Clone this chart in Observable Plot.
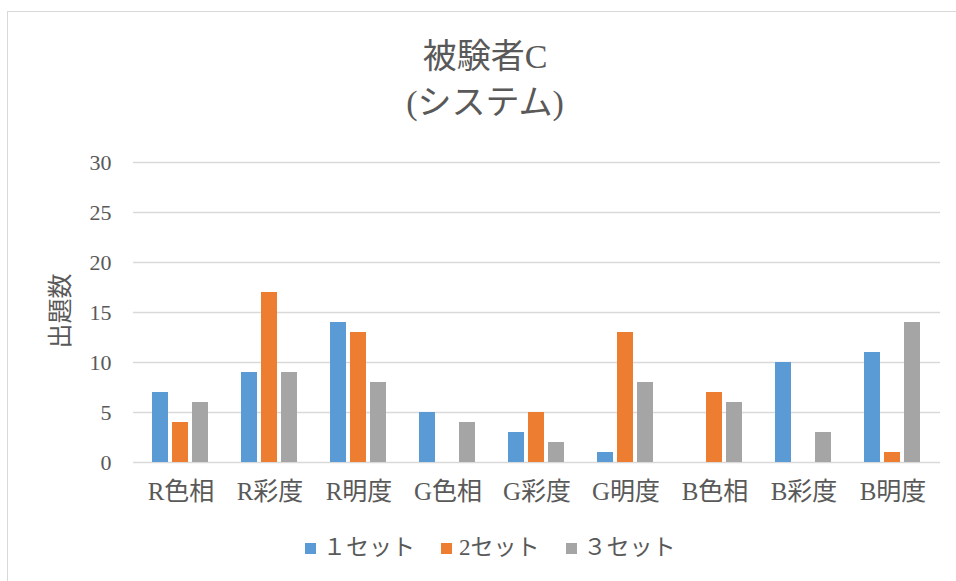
<!DOCTYPE html>
<html><head><meta charset="utf-8">
<script src="https://cdn.jsdelivr.net/npm/d3@7"></script>
<script src="https://cdn.jsdelivr.net/npm/@observablehq/plot@0.6"></script>
<style>
body{margin:0;background:#fff;}
#wrap{position:relative;width:956px;height:581px;overflow:hidden;font-family:"Liberation Serif","Noto Sans CJK JP",serif;color:#595959;}
#frame{position:absolute;left:7px;top:11px;width:960px;height:600px;border:1px solid #d9d9d9;box-sizing:border-box;}
#title{position:absolute;left:285px;top:34px;width:400px;text-align:center;font-size:34px;line-height:46px;}
#ylab{position:absolute;left:58px;top:311px;transform:translate(-50%,-50%) rotate(-90deg);font-size:25px;white-space:nowrap;}
.layer{position:absolute;left:0;top:120px;}
#legend{position:absolute;left:305px;top:536px;display:flex;align-items:center;font-size:23px;line-height:24px;}
.item{display:flex;align-items:center;margin-right:26px;}
.sw{width:11px;height:11px;margin-right:7px;}
</style></head>
<body><div id="wrap">
<div id="frame"></div>
<div id="title">被験者C<br>(システム)</div>
<div id="ylab">出題数</div>
<div id="base" class="layer"></div>
<div id="bars" class="layer"></div>
<div id="legend"></div>
</div>
<script>
const categories = ["R色相","R彩度","R明度","G色相","G彩度","G明度","B色相","B彩度","B明度"];
const series = ["１セット","2セット","３セット"];
const set1 = [7, 9, 14, 5, 3, 1, 0, 10, 11];
const set2 = [4, 17, 13, 0, 5, 13, 7, 0, 1];
const set3 = [6, 9, 8, 4, 2, 8, 6, 3, 14];
const yTicks = [0, 5, 10, 15, 20, 25, 30];
const colors = ["#5B9BD5", "#ED7D31", "#A5A5A5"];

const seriesValues = [set1, set2, set3];
const data = [];
categories.forEach((c, i) => series.forEach((s, j) => data.push({category: c, series: s, value: seriesValues[j][i]})));

const dims = {width: 956, height: 402, marginTop: 42, marginBottom: 60, marginLeft: 133, marginRight: 16};
const font = '"Liberation Serif","Noto Sans CJK JP",serif';

const base = Plot.plot({
  ...dims,
  style: {fontFamily: font, color: "#595959", background: "transparent"},
  x: {type: "band", domain: categories, padding: 0, axis: null},
  y: {domain: [0, 30], axis: null},
  marks: [
    Plot.ruleY(yTicks, {stroke: "#d9d9d9", strokeWidth: 1.6}),
    Plot.axisY(yTicks, {tickSize: 0, tickPadding: 22, fontSize: 22, label: null, fill: "#595959"}),
    Plot.axisX({anchor: "bottom", tickSize: 0, tickPadding: 20, fontSize: 25, label: null, fill: "#595959"})
  ]
});
document.getElementById("base").appendChild(base);

const bars = Plot.plot({
  ...dims,
  style: {fontFamily: font, background: "transparent"},
  fx: {domain: categories, paddingInner: 0.36, paddingOuter: 0.18, axis: null, label: null},
  x: {domain: series, paddingInner: 0.18, paddingOuter: 0, axis: null},
  y: {domain: [0, 30], axis: null},
  color: {domain: series, range: colors},
  marks: [
    Plot.barY(data, {fx: "category", x: "series", y: "value", fill: "series"})
  ]
});
document.getElementById("bars").appendChild(bars);

const legend = document.getElementById("legend");
series.forEach((s, j) => {
  const it = document.createElement("div"); it.className = "item";
  const sw = document.createElement("div"); sw.className = "sw"; sw.style.background = colors[j];
  const t = document.createElement("span"); t.textContent = s;
  it.appendChild(sw); it.appendChild(t); legend.appendChild(it);
});
</script>
</body></html>
